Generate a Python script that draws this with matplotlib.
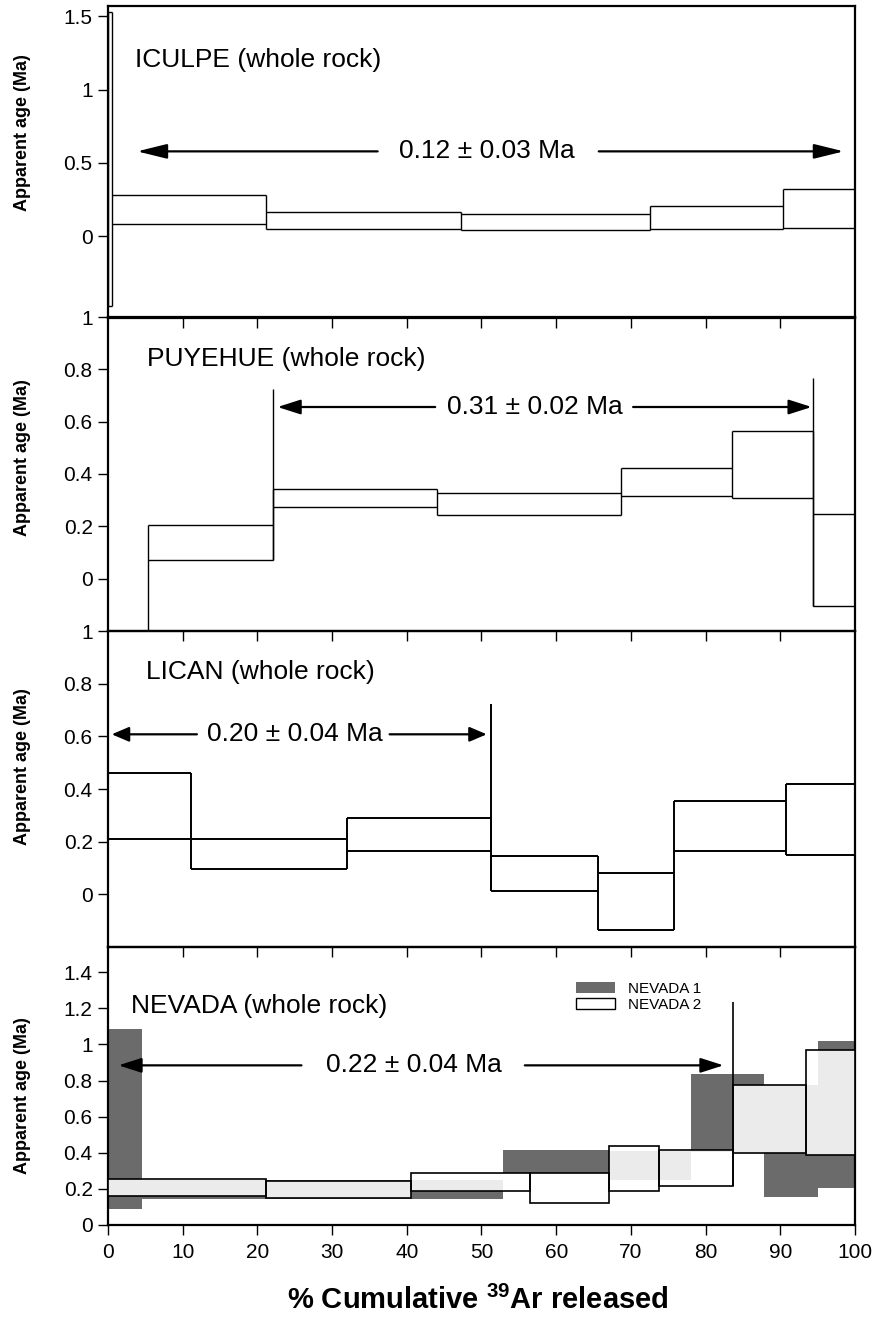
import matplotlib
matplotlib.use("Agg")
import matplotlib.pyplot as plt
from matplotlib.patches import Rectangle, Patch
from matplotlib.ticker import FuncFormatter

plt.rcParams["font.family"] = ["Liberation Sans", "DejaVu Sans"]
plt.rcParams["mathtext.fontset"] = "custom"
plt.rcParams["mathtext.rm"] = "Liberation Sans"
plt.rcParams["mathtext.bf"] = "Liberation Sans:bold"

# ---- step-heating spectra: step edges (% cumulative 39Ar) and 1-sigma age envelopes (Ma)
iculpe_edges = [0, 0.6, 21.2, 47.3, 72.6, 90.3, 100]
iculpe_lo = [-0.48, 0.08, 0.046, 0.041, 0.045, 0.052]
iculpe_hi = [1.53, 0.28, 0.162, 0.152, 0.202, 0.32]

puyehue_edges = [0, 5.4, 22.1, 44.1, 68.7, 83.5, 94.4, 100]
puyehue_lo = [-0.55, 0.072, 0.274, 0.245, 0.314, 0.307, -0.105]
puyehue_hi = [-0.30, 0.206, 0.343, 0.326, 0.424, 0.565, 0.248]

lican_edges = [0, 11.1, 32.0, 51.3, 65.6, 75.8, 90.8, 100]
lican_lo = [0.212, 0.095, 0.164, 0.013, -0.135, 0.165, 0.149]
lican_hi = [0.462, 0.212, 0.291, 0.145, 0.081, 0.354, 0.419]

nevada1_edges = [0, 4.6, 52.9, 67.1, 78.1, 87.8, 95.0, 100]
nevada1_lo = [0.088, 0.145, 0.287, 0.25, 0.405, 0.157, 0.206]
nevada1_hi = [1.087, 0.25, 0.414, 0.41, 0.838, 0.775, 1.017]

nevada2_edges = [0, 21.2, 40.6, 56.5, 67.1, 73.7, 83.7, 93.5, 100]
nevada2_lo = [0.162, 0.151, 0.19, 0.12, 0.188, 0.218, 0.396, 0.39]
nevada2_hi = [0.252, 0.245, 0.287, 0.287, 0.438, 0.414, 0.773, 0.967]

# plateau ages
plateau_labels = ["0.12 ± 0.03 Ma", "0.31 ± 0.02 Ma", "0.20 ± 0.04 Ma", "0.22 ± 0.04 Ma"]
sample_names = ["ICULPE (whole rock)", "PUYEHUE (whole rock)",
                "LICAN (whole rock)", "NEVADA (whole rock)"]
# plateau limit markers: (x position, top of marker line)
plateau_marks = [[], [(22.1, 0.726), (94.4, 0.765)], [(51.3, 0.723)], [(83.7, 1.235)]]

x_ticks = [0, 10, 20, 30, 40, 50, 60, 70, 80, 90, 100]

DARK = "#6b6b6b"
LIGHT = "#ebebeb"

fig = plt.figure(figsize=(8.76, 13.17), dpi=100)
L, W = 0.1233, 0.8527
axes = [
    fig.add_axes([L, 0.7585, W, 0.2369]),
    fig.add_axes([L, 0.5209, W, 0.2384]),
    fig.add_axes([L, 0.2809, W, 0.2399]),
    fig.add_axes([L, 0.0699, W, 0.2111]),
]
ylims = [(-0.56, 1.57), (-0.2, 1.0), (-0.2, 1.0), (0, 1.54)]
yticks = [[0, 0.5, 1, 1.5], [0, 0.2, 0.4, 0.6, 0.8, 1.0],
          [0, 0.2, 0.4, 0.6, 0.8, 1.0], [0, 0.2, 0.4, 0.6, 0.8, 1.0, 1.2, 1.4]]
ylabel_y = [0.595, 0.551, 0.57, 0.464]
title_pos = [(3.6, 1.2), (5.2, 0.838), (5.1, 0.846), (3.1, 1.21)]
step_lw = [1.0, 1.0, 1.4, 1.2]
# arrow layout: y, left tail, left tip, right tail, right tip, text centre, head length
arrow_layout = [
    (0.578, 36.1, 3.9, 65.7, 98.5, 50.7, 1.3),
    (0.656, 43.8, 22.7, 70.3, 94.2, 57.2, 1.0),
    (0.608, 11.9, 0.5, 37.7, 50.7, 25.0, 0.75),
    (0.884, 25.9, 1.4, 55.8, 82.4, 40.9, 1.0),
]


def draw_spectrum(ax, edges, lo, hi, lw=1.0):
    n = len(lo)
    ax.hlines(lo, edges[:-1], edges[1:], color="black", lw=lw)
    ax.hlines(hi, edges[:-1], edges[1:], color="black", lw=lw)
    for j in range(1, n):
        ax.vlines(edges[j], min(lo[j - 1], lo[j]), max(hi[j - 1], hi[j]),
                  color="black", lw=lw)
    ax.vlines(edges[0], lo[0], hi[0], color="black", lw=lw)
    ax.vlines(edges[-1], lo[-1], hi[-1], color="black", lw=lw)


def step_boxes(edges, lo, hi):
    return [(edges[i], edges[i + 1], lo[i], hi[i]) for i in range(len(lo))]


for k, ax in enumerate(axes):
    ax.set_facecolor("none")
    ax.set_xlim(0, 100)
    ax.set_ylim(*ylims[k])
    ax.set_yticks(yticks[k])
    ax.yaxis.set_major_formatter(FuncFormatter(lambda v, p: "%g" % v))
    # inner panels carry only the interior ticks; the bottom panel the full scale
    ax.set_xticks(x_ticks if k == 3 else x_ticks[1:-1])
    for s in ax.spines.values():
        s.set_linewidth(1.6)
    ax.tick_params(axis="y", direction="out", length=7, width=1.0,
                   labelsize=15, pad=4)
    # bottom ticks point down, into the panel below (or below the last panel)
    ax.tick_params(axis="x", bottom=True, top=False, direction="out",
                   length=7, width=1.0, labelsize=15, pad=6,
                   labelbottom=(k == 3))
    ax.set_ylabel("Apparent age (Ma)", fontsize=13, fontweight="bold")
    ax.yaxis.set_label_coords(-0.103, ylabel_y[k])
    ax.text(title_pos[k][0], title_pos[k][1], sample_names[k], fontsize=19,
            ha="left", va="center")

    y, lt, lp, rt, rp, tc, hl = arrow_layout[k]
    style = "-|>,head_length=%.2f,head_width=0.32" % hl
    for tail, tip in ((lt, lp), (rt, rp)):
        ax.annotate("", xy=(tip, y), xytext=(tail, y),
                    arrowprops=dict(arrowstyle=style, color="black", lw=1.6,
                                    mutation_scale=14, shrinkA=0, shrinkB=0))
    ax.text(tc, y, plateau_labels[k], fontsize=19, ha="center", va="center")

draw_spectrum(axes[0], iculpe_edges, iculpe_lo, iculpe_hi, step_lw[0])
draw_spectrum(axes[1], puyehue_edges, puyehue_lo, puyehue_hi, step_lw[1])
draw_spectrum(axes[2], lican_edges, lican_lo, lican_hi, step_lw[2])

# plateau limit markers, rising from the bottom of the riser at that step
spectra = [(iculpe_edges, iculpe_lo, iculpe_hi), (puyehue_edges, puyehue_lo, puyehue_hi),
           (lican_edges, lican_lo, lican_hi), (nevada2_edges, nevada2_lo, nevada2_hi)]
for k, marks in enumerate(plateau_marks):
    edges, lo, hi = spectra[k]
    for xm, top in marks:
        j = min(range(len(edges)), key=lambda i: abs(edges[i] - xm))
        base = min(lo[max(j - 1, 0)], lo[min(j, len(lo) - 1)])
        axes[k].vlines(edges[j], base, top, color="black", lw=step_lw[k], zorder=6)

# NEVADA: two overlapping spectra, shared areas in light grey
ax = axes[3]
b1 = step_boxes(nevada1_edges, nevada1_lo, nevada1_hi)
b2 = step_boxes(nevada2_edges, nevada2_lo, nevada2_hi)
for x0, x1, y0, y1 in b1:
    ax.add_patch(Rectangle((x0, y0), x1 - x0, y1 - y0, facecolor=DARK,
                           edgecolor="none", zorder=2))
for x0, x1, y0, y1 in b2:
    ax.add_patch(Rectangle((x0, y0), x1 - x0, y1 - y0, facecolor="white",
                           edgecolor="none", zorder=3))
for a in b1:
    for b in b2:
        x0, x1 = max(a[0], b[0]), min(a[1], b[1])
        y0, y1 = max(a[2], b[2]), min(a[3], b[3])
        if x1 > x0 and y1 > y0:
            ax.add_patch(Rectangle((x0, y0), x1 - x0, y1 - y0, facecolor=LIGHT,
                                   edgecolor="none", zorder=4))
for x0, x1, y0, y1 in b2:
    ax.add_patch(Rectangle((x0, y0), x1 - x0, y1 - y0, facecolor="none",
                           edgecolor="black", lw=step_lw[3], zorder=5))

handles = [Patch(facecolor=DARK, edgecolor="none", label="NEVADA 1"),
           Patch(facecolor="white", edgecolor="black", lw=1.0, label="NEVADA 2")]
ax.legend(handles=handles, loc="upper left", bbox_to_anchor=(0.626, 0.875),
          frameon=False, fontsize=11, handlelength=2.6, handleheight=0.7,
          labelspacing=0.15, handletextpad=0.8, borderpad=0, borderaxespad=0)

fig.text(0.5457, 1 - 1300 / 1317, r"% Cumulative $\mathbf{^{39}}$Ar released",
         fontsize=21, fontweight="bold", ha="center", va="center")

fig.savefig("out.png", dpi=100)
